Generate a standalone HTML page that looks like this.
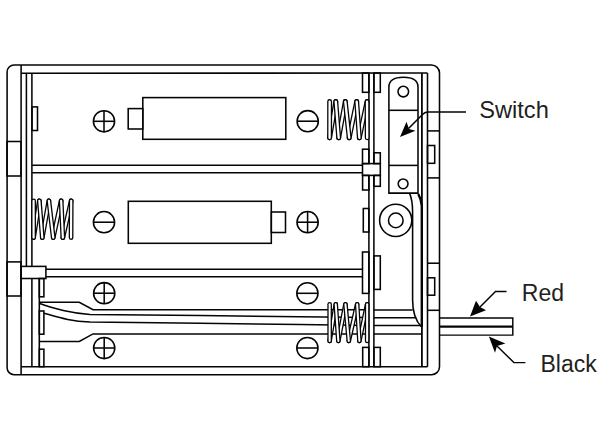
<!DOCTYPE html>
<html><head><meta charset="utf-8"><style>
html,body{margin:0;padding:0;background:#fff;width:600px;height:444px;overflow:hidden}
svg{display:block}
text{font-family:"Liberation Sans",sans-serif;fill:#231f20}
</style></head><body>
<svg width="600" height="444" viewBox="0 0 600 444">
<g fill="none" stroke="#050505" stroke-width="1.55">
<path d="M14.1,65 H431.5 A8,8 0 0 1 439.5,73 V366.7 A8,8 0 0 1 431.5,374.7 H14.1 A7,7 0 0 1 7.1,367.7 V72 A7,7 0 0 1 14.1,65 Z" />
<line x1="21.1" y1="65" x2="21.1" y2="374.7"/>
<rect x="7" y="141.5" width="14" height="34.5"/>
<rect x="7" y="261.9" width="14" height="34.1"/>
<line x1="21.1" y1="73.3" x2="427.5" y2="73.0"/>
<line x1="21" y1="366.7" x2="427.5" y2="366.7"/>
<line x1="421.9" y1="73" x2="421.9" y2="366.7" stroke-width="1.8"/>
<line x1="427.5" y1="73" x2="427.5" y2="366.7"/>
<line x1="26.4" y1="73" x2="26.4" y2="266.4"/>
<line x1="31.9" y1="73.3" x2="31.9" y2="266.4"/>
<line x1="31.9" y1="278.5" x2="31.9" y2="366.7"/>
<line x1="39.3" y1="278.5" x2="39.3" y2="366.7"/>
<rect x="32" y="106.9" width="5.5" height="23.6"/>
<rect x="39.3" y="278.5" width="4.6" height="18.3"/>
<rect x="39.3" y="311" width="4.6" height="23.2"/>
<rect x="39.3" y="349.2" width="4.6" height="17.5"/>
<line x1="32" y1="165.3" x2="362.5" y2="165.3"/>
<line x1="32" y1="172.8" x2="362.5" y2="172.8"/>
<rect x="362.5" y="163.6" width="17.8" height="11.8"/>
<line x1="45.9" y1="269.2" x2="362.5" y2="269.2"/>
<line x1="45.9" y1="276.7" x2="362.5" y2="276.7"/>
<rect x="21" y="266.4" width="24.9" height="12.1"/>
<line x1="368.9" y1="73" x2="368.9" y2="163.6"/>
<line x1="368.9" y1="175.4" x2="368.9" y2="366.7"/>
<line x1="373.9" y1="73" x2="373.9" y2="163.6"/>
<line x1="373.9" y1="175.4" x2="373.9" y2="366.7"/>
<rect x="362.5" y="73" width="6.4" height="19.3"/>
<rect x="362.5" y="149.2" width="6.4" height="14.4"/>
<rect x="362.6" y="175.4" width="6.3" height="14.6"/>
<rect x="363.3" y="208.5" width="5.6" height="23.5"/>
<rect x="362.5" y="252" width="6.4" height="41.4"/>
<rect x="362.7" y="347.4" width="6.2" height="19.3"/>
<rect x="373.9" y="73" width="6.4" height="19.3"/>
<rect x="373.9" y="152.8" width="6.4" height="10.8"/>
<rect x="373.9" y="175.4" width="6.4" height="10.9"/>
<rect x="373.9" y="255.9" width="6.4" height="33.5"/>
<rect x="373.9" y="347.4" width="6.4" height="19.3"/>
<line x1="427.5" y1="130.9" x2="439.5" y2="130.9"/>
<line x1="427.5" y1="177.9" x2="439.5" y2="177.9"/>
<line x1="427.5" y1="263.2" x2="439.5" y2="263.2"/>
<line x1="427.5" y1="310.3" x2="439.5" y2="310.3"/>
<rect x="427.5" y="145.5" width="7.2" height="17.8"/>
<rect x="427.5" y="277.8" width="7.2" height="17.4"/>
<rect x="142.8" y="97.6" width="143.0" height="41.7"/>
<rect x="128.2" y="108.6" width="14.6" height="20.4"/>
<circle cx="104" cy="121.3" r="10.6"/><line x1="93.4" y1="121.3" x2="114.6" y2="121.3"/><line x1="104" y1="110.7" x2="104" y2="131.9"/>
<circle cx="307.7" cy="121.2" r="10.6"/><line x1="297.09999999999997" y1="121.2" x2="318.3" y2="121.2"/>
<rect x="128.3" y="201.3" width="143.0" height="42.0"/>
<rect x="271.3" y="212" width="14.2" height="20.5"/>
<circle cx="104" cy="222.2" r="10.6"/><line x1="93.4" y1="222.2" x2="114.6" y2="222.2"/>
<circle cx="307.6" cy="222.2" r="10.6"/><line x1="297.0" y1="222.2" x2="318.20000000000005" y2="222.2"/><line x1="307.6" y1="211.6" x2="307.6" y2="232.79999999999998"/>
<circle cx="104.2" cy="293.2" r="10.6"/><line x1="93.60000000000001" y1="293.2" x2="114.8" y2="293.2"/><line x1="104.2" y1="282.59999999999997" x2="104.2" y2="303.8"/>
<circle cx="104.2" cy="348" r="10.6"/><line x1="93.60000000000001" y1="348" x2="114.8" y2="348"/><line x1="104.2" y1="337.4" x2="104.2" y2="358.6"/>
<circle cx="307.4" cy="293.3" r="10.6"/><line x1="296.79999999999995" y1="293.3" x2="318.0" y2="293.3"/>
<circle cx="307.4" cy="348" r="10.6"/><line x1="296.79999999999995" y1="348" x2="318.0" y2="348"/>
<path d="M39.3,302.2 H79.3 L93,309.8 H369.2" fill="none"/>
<path d="M373.6,310 H412.6" fill="none"/>
<path d="M39.3,341.5 H79.3 L93,333.9 H369.2" fill="none"/>
<path d="M373.6,333.9 H421.8" fill="none"/>
<path d="M39.3,303.5 C54,308 68,313 90,314.4 L200,315.6 L300,316.8 L369.2,317.6" fill="none"/>
<path d="M373.6,317.7 H415.5" fill="none"/>
<path d="M43.9,313.2 C60,317.8 70,321.3 90,322 L200,323.2 L300,324.6 L369.2,325.4" fill="none"/>
<path d="M373.6,325.4 H421.8" fill="none"/>
<path d="M388.9,193.1 V87 C388.9,80 394,77.2 403.5,77.2 C413,77.2 418,80 418,87 V193.1 Z" />
<line x1="388.9" y1="110.3" x2="418" y2="110.3"/>
<line x1="388.9" y1="165.4" x2="418" y2="165.4"/>
<circle cx="403.3" cy="91.6" r="5.3"/>
<circle cx="403.1" cy="183.8" r="4.9"/>
<circle cx="395.7" cy="220.3" r="16.1"/>
<circle cx="395.8" cy="220.4" r="7.3"/>
<path d="M409.5,193.1 Q412.6,200 412.6,212 V300 Q412.6,318 421.6,327" fill="none"/>
<path d="M418.3,194 Q421.5,200 421.8,206 V327" fill="none" stroke-width="2.4"/>
</g>
<line x1="329.60" y1="137.72" x2="335.80" y2="101.58" stroke="#050505" stroke-width="4.95" stroke-linecap="round"/><line x1="329.60" y1="137.72" x2="335.80" y2="101.58" stroke="#fff" stroke-width="2.35" stroke-linecap="round"/><line x1="338.70" y1="137.72" x2="345.30" y2="101.58" stroke="#050505" stroke-width="4.95" stroke-linecap="round"/><line x1="338.70" y1="137.72" x2="345.30" y2="101.58" stroke="#fff" stroke-width="2.35" stroke-linecap="round"/><line x1="349.20" y1="137.72" x2="356.70" y2="101.58" stroke="#050505" stroke-width="4.95" stroke-linecap="round"/><line x1="349.20" y1="137.72" x2="356.70" y2="101.58" stroke="#fff" stroke-width="2.35" stroke-linecap="round"/><line x1="359.35" y1="137.72" x2="367.05" y2="101.58" stroke="#050505" stroke-width="4.95" stroke-linecap="round"/><line x1="359.35" y1="137.72" x2="367.05" y2="101.58" stroke="#fff" stroke-width="2.35" stroke-linecap="round"/><line x1="329.65" y1="101.58" x2="329.60" y2="137.72" stroke="#050505" stroke-width="4.95" stroke-linecap="round"/><line x1="329.65" y1="101.58" x2="329.60" y2="137.72" stroke="#fff" stroke-width="2.35" stroke-linecap="round"/><line x1="335.80" y1="101.58" x2="338.70" y2="137.72" stroke="#050505" stroke-width="4.95" stroke-linecap="round"/><line x1="335.80" y1="101.58" x2="338.70" y2="137.72" stroke="#fff" stroke-width="2.35" stroke-linecap="round"/><line x1="345.30" y1="101.58" x2="349.20" y2="137.72" stroke="#050505" stroke-width="4.95" stroke-linecap="round"/><line x1="345.30" y1="101.58" x2="349.20" y2="137.72" stroke="#fff" stroke-width="2.35" stroke-linecap="round"/><line x1="356.70" y1="101.58" x2="359.35" y2="137.72" stroke="#050505" stroke-width="4.95" stroke-linecap="round"/><line x1="356.70" y1="101.58" x2="359.35" y2="137.72" stroke="#fff" stroke-width="2.35" stroke-linecap="round"/><line x1="367.05" y1="101.58" x2="367.20" y2="137.72" stroke="#050505" stroke-width="4.95" stroke-linecap="round"/><line x1="367.05" y1="101.58" x2="367.20" y2="137.72" stroke="#fff" stroke-width="2.35" stroke-linecap="round"/><line x1="329.65" y1="340.89" x2="335.75" y2="304.31" stroke="#050505" stroke-width="4.62" stroke-linecap="round"/><line x1="329.65" y1="340.89" x2="335.75" y2="304.31" stroke="#fff" stroke-width="2.02" stroke-linecap="round"/><line x1="338.35" y1="340.89" x2="345.45" y2="304.31" stroke="#050505" stroke-width="4.62" stroke-linecap="round"/><line x1="338.35" y1="340.89" x2="345.45" y2="304.31" stroke="#fff" stroke-width="2.02" stroke-linecap="round"/><line x1="348.80" y1="340.89" x2="357.15" y2="304.31" stroke="#050505" stroke-width="4.62" stroke-linecap="round"/><line x1="348.80" y1="340.89" x2="357.15" y2="304.31" stroke="#fff" stroke-width="2.02" stroke-linecap="round"/><line x1="359.40" y1="340.89" x2="367.15" y2="304.31" stroke="#050505" stroke-width="4.62" stroke-linecap="round"/><line x1="359.40" y1="340.89" x2="367.15" y2="304.31" stroke="#fff" stroke-width="2.02" stroke-linecap="round"/><line x1="329.65" y1="304.31" x2="329.65" y2="340.89" stroke="#050505" stroke-width="4.62" stroke-linecap="round"/><line x1="329.65" y1="304.31" x2="329.65" y2="340.89" stroke="#fff" stroke-width="2.02" stroke-linecap="round"/><line x1="335.75" y1="304.31" x2="338.35" y2="340.89" stroke="#050505" stroke-width="4.62" stroke-linecap="round"/><line x1="335.75" y1="304.31" x2="338.35" y2="340.89" stroke="#fff" stroke-width="2.02" stroke-linecap="round"/><line x1="345.45" y1="304.31" x2="348.80" y2="340.89" stroke="#050505" stroke-width="4.62" stroke-linecap="round"/><line x1="345.45" y1="304.31" x2="348.80" y2="340.89" stroke="#fff" stroke-width="2.02" stroke-linecap="round"/><line x1="357.15" y1="304.31" x2="359.40" y2="340.89" stroke="#050505" stroke-width="4.62" stroke-linecap="round"/><line x1="357.15" y1="304.31" x2="359.40" y2="340.89" stroke="#fff" stroke-width="2.02" stroke-linecap="round"/><line x1="367.15" y1="304.31" x2="367.15" y2="340.89" stroke="#050505" stroke-width="4.62" stroke-linecap="round"/><line x1="367.15" y1="304.31" x2="367.15" y2="340.89" stroke="#fff" stroke-width="2.02" stroke-linecap="round"/><line x1="33.60" y1="237.62" x2="39.35" y2="200.78" stroke="#050505" stroke-width="4.77" stroke-linecap="round"/><line x1="33.60" y1="237.62" x2="39.35" y2="200.78" stroke="#fff" stroke-width="2.17" stroke-linecap="round"/><line x1="42.30" y1="237.62" x2="48.90" y2="200.78" stroke="#050505" stroke-width="4.77" stroke-linecap="round"/><line x1="42.30" y1="237.62" x2="48.90" y2="200.78" stroke="#fff" stroke-width="2.17" stroke-linecap="round"/><line x1="53.25" y1="237.62" x2="61.15" y2="200.78" stroke="#050505" stroke-width="4.77" stroke-linecap="round"/><line x1="53.25" y1="237.62" x2="61.15" y2="200.78" stroke="#fff" stroke-width="2.17" stroke-linecap="round"/><line x1="62.85" y1="237.62" x2="71.20" y2="200.78" stroke="#050505" stroke-width="4.77" stroke-linecap="round"/><line x1="62.85" y1="237.62" x2="71.20" y2="200.78" stroke="#fff" stroke-width="2.17" stroke-linecap="round"/><line x1="33.60" y1="200.78" x2="33.60" y2="237.62" stroke="#050505" stroke-width="4.77" stroke-linecap="round"/><line x1="33.60" y1="200.78" x2="33.60" y2="237.62" stroke="#fff" stroke-width="2.17" stroke-linecap="round"/><line x1="39.35" y1="200.78" x2="42.30" y2="237.62" stroke="#050505" stroke-width="4.77" stroke-linecap="round"/><line x1="39.35" y1="200.78" x2="42.30" y2="237.62" stroke="#fff" stroke-width="2.17" stroke-linecap="round"/><line x1="48.90" y1="200.78" x2="53.25" y2="237.62" stroke="#050505" stroke-width="4.77" stroke-linecap="round"/><line x1="48.90" y1="200.78" x2="53.25" y2="237.62" stroke="#fff" stroke-width="2.17" stroke-linecap="round"/><line x1="61.15" y1="200.78" x2="62.85" y2="237.62" stroke="#050505" stroke-width="4.77" stroke-linecap="round"/><line x1="61.15" y1="200.78" x2="62.85" y2="237.62" stroke="#fff" stroke-width="2.17" stroke-linecap="round"/><line x1="71.20" y1="200.78" x2="71.05" y2="237.62" stroke="#050505" stroke-width="4.77" stroke-linecap="round"/><line x1="71.20" y1="200.78" x2="71.05" y2="237.62" stroke="#fff" stroke-width="2.17" stroke-linecap="round"/>
<g fill="#050505" stroke="none">
<path d="M400,137 L406.5,121.7 L409,128.9 L415.5,130.7 Z"/>
<path d="M470,316.5 L476,300.8 L480,307 L486,310.2 Z"/>
<path d="M488.9,336.6 L505.4,343.4 L497,346 L495,352.8 Z"/>
</g>
<g fill="none" stroke="#050505" stroke-width="1.45">
<path d="M408.5,128.5 L422,115 Q424.5,111.9 428,111.9 H466"/>
<path d="M480,307 L495.5,291.5 H506.5"/>
<path d="M497,346 L513.9,362.6 H525.4"/>
<path d="M439.5,318 H512.8 V335.1 H439.5"/>
<line x1="439.5" y1="326.6" x2="512.8" y2="326.6" stroke-width="2.3"/>
</g>
<text x="479.3" y="117.9" font-size="23.6">Switch</text>
<text x="521.8" y="301.2" font-size="23">Red</text>
<text x="540.5" y="372" font-size="23">Black</text>
</svg>
</body></html>
